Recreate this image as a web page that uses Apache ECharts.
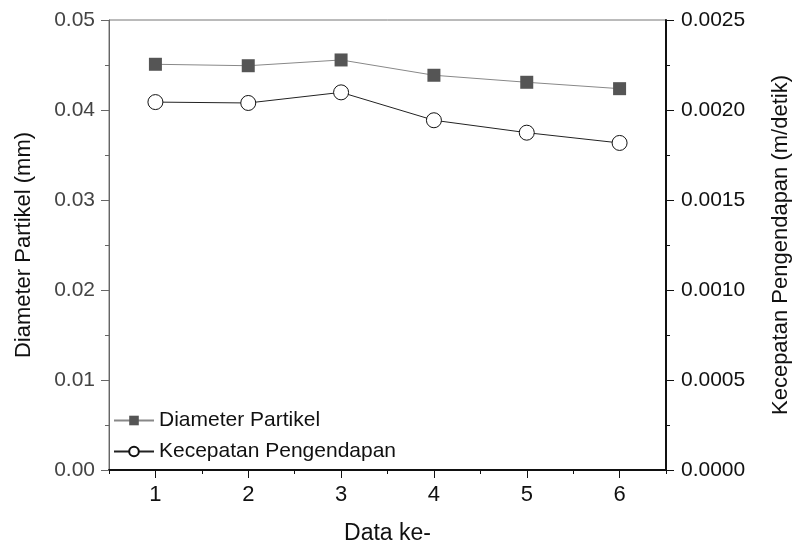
<!DOCTYPE html>
<html>
<head>
<meta charset="utf-8">
<script src="https://cdn.jsdelivr.net/npm/echarts@6/dist/echarts.min.js"></script>
<style>
  html, body { margin: 0; padding: 0; background: #fff; }
  #chart { width: 793px; height: 550px; }
</style>
</head>
<body>
<div id="chart"></div>
<script>
window.onload = function() {

  var chartNode = document.getElementById('chart'),
      myChart = echarts.init(chartNode);

  // data
  var dataKe = [1, 2, 3, 4, 5, 6];
  var diameter = [0.04508, 0.04492, 0.04556, 0.04386, 0.04308, 0.04237];
  var kecepatan = [0.002044, 0.002039, 0.002098, 0.001943, 0.001874, 0.001817];
  var halfTicks = [0.5, 1.5, 2.5, 3.5, 4.5, 5.5, 6.5];

  var font = 'Liberation Sans, Arial, sans-serif';

  function pairs(xs, ys) {
    return xs.map(function(x, i) { return [x, ys[i]]; });
  }

  var option = {
    animation: false,
    textStyle: { fontFamily: font },
    grid: {
      left: 109, right: 127, top: 20, bottom: 80,
      outerBoundsMode: 'none',
      containLabel: false,
      show: true,
      borderColor: '#777',
      borderWidth: 1
    },
    legend: {
      orient: 'vertical',
      left: 108,
      top: 405,
      itemWidth: 40,
      itemHeight: 12,
      itemGap: 10,
      textStyle: { fontSize: 21, color: '#111', fontFamily: font },
      data: ['Diameter Partikel', 'Kecepatan Pengendapan']
    },
    xAxis: [{
      type: 'value',
      min: 0.5,
      max: 6.5,
      name: 'Data ke-',
      nameLocation: 'middle',
      nameGap: 52,
      nameTextStyle: { fontSize: 23, color: '#111' },
      axisLine: { lineStyle: { color: '#111', width: 2 } },
      axisTick: { show: true, length: 8, customValues: dataKe, lineStyle: { color: '#111' } },
      axisLabel: { customValues: dataKe, fontSize: 22, color: '#111', margin: 14 },
      splitLine: { show: false }
    }, {
      type: 'value',
      min: 0.5,
      max: 6.5,
      position: 'bottom',
      axisLine: { show: false },
      axisTick: { show: true, length: 4, customValues: halfTicks, lineStyle: { color: '#111' } },
      axisLabel: { show: false },
      splitLine: { show: false }
    }],
    yAxis: [{
      type: 'value',
      min: 0,
      max: 0.05,
      interval: 0.01,
      name: 'Diameter Partikel (mm)',
      nameLocation: 'middle',
      nameGap: 74,
      nameTextStyle: { fontSize: 22, color: '#111' },
      axisLine: { show: true, lineStyle: { color: '#666', width: 1 } },
      axisTick: { show: true, length: 8, lineStyle: { color: '#666' } },
      minorTick: { show: true, splitNumber: 2, length: 4, lineStyle: { color: '#666' } },
      axisLabel: {
        fontSize: 21, color: '#444', margin: 14,
        formatter: function(v) { return v.toFixed(2); }
      },
      splitLine: { show: false }
    }, {
      type: 'value',
      min: 0,
      max: 0.0025,
      interval: 0.0005,
      position: 'right',
      name: 'Kecepatan Pengendapan (m/detik)',
      nameLocation: 'middle',
      nameGap: 104,
      nameRotate: 90,
      nameTextStyle: { fontSize: 22, color: '#111' },
      axisLine: { show: true, lineStyle: { color: '#111', width: 2 } },
      axisTick: { show: true, length: 8, lineStyle: { color: '#111' } },
      minorTick: { show: true, splitNumber: 2, length: 4, lineStyle: { color: '#111' } },
      axisLabel: {
        fontSize: 21, color: '#111', margin: 15,
        formatter: function(v) { return v.toFixed(4); }
      },
      splitLine: { show: false }
    }],
    series: [{
      name: 'Diameter Partikel',
      type: 'line',
      xAxisIndex: 0,
      yAxisIndex: 0,
      symbol: 'rect',
      symbolSize: 13,
      itemStyle: { color: '#555' },
      lineStyle: { color: '#888', width: 1 },
      data: pairs(dataKe, diameter)
    }, {
      name: 'Kecepatan Pengendapan',
      type: 'line',
      xAxisIndex: 0,
      yAxisIndex: 1,
      symbol: 'circle',
      symbolSize: 15,
      itemStyle: { color: '#fff', borderColor: '#111', borderWidth: 1 },
      lineStyle: { color: '#222', width: 1 },
      data: pairs(dataKe, kecepatan)
    }]
  };

  myChart.setOption(option);
}
</script>
</body>
</html>
